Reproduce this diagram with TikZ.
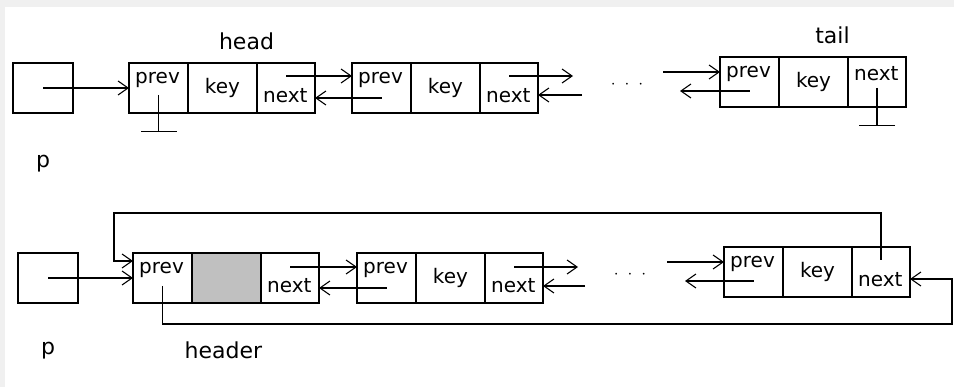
\documentclass[tikz,border=0pt]{standalone}
\usepackage{fontspec}
\setmainfont{DejaVu Sans}
\usepackage{tikz}
\usetikzlibrary{arrows.meta,positioning}
\definecolor{framebg}{RGB}{240,240,240}
\definecolor{keygray}{RGB}{192,192,192}
\newcommand\cellfont{\fontsize{20}{23}\selectfont}
\newcommand\tagfont{\fontsize{22}{26}\selectfont}

\begin{document}
\begin{tikzpicture}[
  x=1pt,y=-1pt,
  cell/.style={draw,line width=1.1pt,minimum height=50pt,outer sep=0pt,
               inner sep=0pt,font=\cellfont},
  txt/.style={font=\cellfont,inner xsep=6pt,inner ysep=9pt},
  prevcell/.style={cell,minimum width=59pt,
               label={[txt,anchor=north west]north west:prev}},
  keycell/.style={cell,minimum width=69pt},
  nextcell/.style={cell,minimum width=58pt,
               label={[txt,anchor=south west,inner ysep=10pt]south west:next}},
  nexttop/.style={cell,minimum width=58pt,
               label={[txt,anchor=north west]north west:next}},
  ptr/.style={draw,line width=1.1pt,minimum width=60pt,minimum height=50pt},
  tag/.style={font=\tagfont},
  dotted3/.style={font=\fontsize{16}{18}\selectfont},
  arr/.style={-{Straight Barb[length=10pt,width=14pt]},line width=1.1pt},
  gnd/.style={-{Bar[width=36pt]},line width=1.1pt}
]
  % background and frame
  \useasboundingbox (0,0) rectangle (954,387);
  \fill[framebg] (0,0) rectangle (954,387);
  \fill[white] (5,7) rectangle (954,387);

% ---------------- head ... tail ----------------
  \node[ptr] (pa) at (43,88) {};
  \node[tag,below=38pt of pa] (pa-lbl) {p};

  \node[prevcell,anchor=west] (hd-prev) at (129,88) {};
  \node[keycell,right=0pt of hd-prev] (hd-key) {key};
  \node[nextcell,right=0pt of hd-key] (hd-next) {};
  \node[tag,above=10pt of hd-key,xshift=24pt] (hd-lbl) {head};

  \node[prevcell,anchor=west] (m1-prev) at (352,88) {};
  \node[keycell,right=0pt of m1-prev] (m1-key) {key};
  \node[nextcell,right=0pt of m1-key] (m1-next) {};

  \node[dotted3] (dots1) at ([xshift=89pt,yshift=3pt]m1-next.east)
    {$\cdot$\hspace{9pt}$\cdot$\hspace{9pt}$\cdot$};

  \node[prevcell,anchor=west] (tl-prev) at (720,82) {};
  \node[keycell,right=0pt of tl-prev] (tl-key) {key};
  \node[nexttop,right=0pt of tl-key] (tl-next) {};
  \node[tag,above=10pt of tl-key,xshift=19pt] (tl-lbl) {tail};

  \coordinate (m1-out) at ([xshift=35pt,yshift=12pt]m1-next.east);
  \coordinate (m1-in)  at ([xshift=44pt,yshift=-7pt]m1-next.east);
  \coordinate (tl-in)  at ([xshift=-57pt,yshift=10pt]tl-prev.west);
  \coordinate (tl-out) at ([xshift=-40pt,yshift=-9pt]tl-prev.west);

  \draw[arr] (pa.center) -- (hd-prev.west);
  \draw[arr] ([yshift=12pt]hd-next.center) -- ([yshift=12pt]m1-prev.west);
  \draw[arr] ([yshift=-10pt]m1-prev.center) -- ([yshift=-10pt]hd-next.east);
  \draw[arr] ([yshift=12pt]m1-next.center) -- (m1-out);
  \draw[arr] (m1-in) -- ([yshift=-7pt]m1-next.east);
  \draw[arr] (tl-in) -- ([yshift=10pt]tl-prev.west);
  \draw[arr] ([yshift=-9pt]tl-prev.center) -- (tl-out);
  \draw[gnd] ([yshift=-7pt]hd-prev.center) -- ++(0,37);
  \draw[gnd] ([yshift=-6pt]tl-next.center) -- ++(0,38);

% ---------------- header (circular) ----------------
  \node[ptr] (pb) at (48,278) {};
  \node[tag,below=35pt of pb] (pb-lbl) {p};

  \node[prevcell,anchor=west] (hr-prev) at (133,278) {};
  \node[keycell,fill=keygray,right=0pt of hr-prev] (hr-key) {};
  \node[nextcell,right=0pt of hr-key] (hr-next) {};
  \node[tag,below=35pt of hr-key,xshift=-3pt] (hr-lbl) {header};

  \node[prevcell,anchor=west] (m2-prev) at (357,278) {};
  \node[keycell,right=0pt of m2-prev] (m2-key) {key};
  \node[nextcell,right=0pt of m2-key] (m2-next) {};

  \node[dotted3] (dots2) at ([xshift=87pt,yshift=3pt]m2-next.east)
    {$\cdot$\hspace{9pt}$\cdot$\hspace{9pt}$\cdot$};

  \node[prevcell,anchor=west] (tl2-prev) at (724,272) {};
  \node[keycell,right=0pt of tl2-prev] (tl2-key) {key};
  \node[nextcell,right=0pt of tl2-key] (tl2-next) {};

  \coordinate (m2-out) at ([xshift=35pt,yshift=11pt]m2-next.east);
  \coordinate (m2-in)  at ([xshift=42pt,yshift=-8pt]m2-next.east);
  \coordinate (tl2-in)  at ([xshift=-57pt,yshift=10pt]tl2-prev.west);
  \coordinate (tl2-out) at ([xshift=-39pt,yshift=-9pt]tl2-prev.west);

  \draw[arr] (pb.center) -- (hr-prev.west);
  \draw[arr] ([yshift=11pt]hr-next.center) -- ([yshift=11pt]m2-prev.west);
  \draw[arr] ([yshift=-10pt]m2-prev.center) -- ([yshift=-10pt]hr-next.east);
  \draw[arr] ([yshift=11pt]m2-next.center) -- (m2-out);
  \draw[arr] (m2-in) -- ([yshift=-8pt]m2-next.east);
  \draw[arr] (tl2-in) -- ([yshift=10pt]tl2-prev.west);
  \draw[arr] ([yshift=-9pt]tl2-prev.center) -- (tl2-out);

  \draw[arr] ([yshift=12pt]tl2-next.center) -- ++(0,-47)
    -| ([xshift=-19pt,yshift=17pt]hr-prev.west) -- ([yshift=17pt]hr-prev.west);
  \draw[arr] ([yshift=-8pt]hr-prev.center)
    |- ([xshift=42pt,yshift=-52pt]tl2-next.east)
    -- ([xshift=42pt,yshift=-7pt]tl2-next.east) -- ([yshift=-7pt]tl2-next.east);
\end{tikzpicture}
\end{document}
